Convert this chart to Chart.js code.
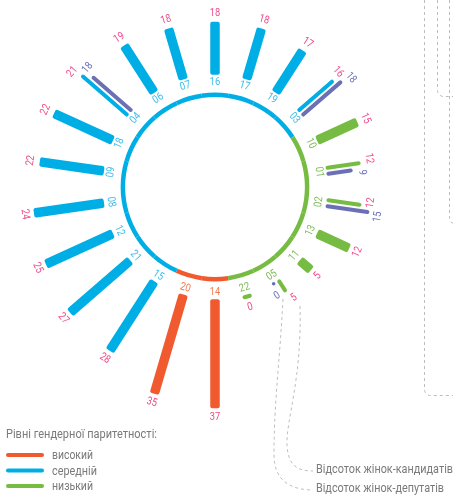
<!DOCTYPE html>
<html>
<head>
<meta charset="utf-8">
<script src="https://cdn.jsdelivr.net/npm/chart.js@4.4.1/dist/chart.umd.min.js"></script>
<style>
  html, body { margin: 0; padding: 0; background: #fff; }
  canvas { display: block; }
</style>
</head>
<body>
<canvas id="chart" width="453" height="496"></canvas>
<script>
// regions, clockwise from the top
const regions    = ['16','17','19','03','10','01','02','13','11','05','22','14','20','15','21','12','08','09','18','04','06','07'];
// % of women among candidates
const candidates = [18, 18, 17, 16, 15, 12, 12, 12, 5, 5, 0, 37, 35, 28, 27, 25, 24, 22, 22, 21, 19, 18];
// % of women among deputies (only where shown separately)
const deputies   = [null, null, null, 18, null, 9, 15, null, null, 0, null, null, null, null, null, null, null, null, null, 18, null, null];
// gender parity level of each region
const levels     = ['m','m','m','m','l','l','l','l','l','l','l','h','h','m','m','m','m','m','m','m','m','m'];
const levelKeys  = ['h', 'm', 'l'];
const levelNames = ['високий', 'середній', 'низький'];

const barColors  = { h: '#f15a2f', m: '#00aee6', l: '#76bc43' };
const codeColors = { h: '#f37b52', m: '#3dbde9', l: '#7fbb58' };
const PINK = '#ee4a8a';
const PURPLE = '#6b70b6';
const GREY = '#7a7a7a';
const FONT = "Roboto, 'Open Sans', sans-serif";

function rotatedText(ctx, text, x, y, ang, color, size) {
    // keep the text readable: bottom half is flipped
    let t = ang + Math.PI / 2;
    t = ((t % (2 * Math.PI)) + 2 * Math.PI) % (2 * Math.PI);
    const rot = (t > Math.PI / 2 && t < 3 * Math.PI / 2) ? t - Math.PI : t;
    ctx.save();
    ctx.translate(x, y);
    ctx.rotate(rot);
    ctx.scale(0.85, 1); // narrow digits
    ctx.font = size + 'px ' + FONT;
    ctx.fillStyle = color;
    ctx.textAlign = 'center';
    ctx.textBaseline = 'middle';
    ctx.fillText(text, 0, 0);
    ctx.restore();
}

function radialBar(ctx, cx, cy, ang, off, d0, d1, w, rad, color) {
    ctx.save();
    ctx.translate(cx, cy);
    ctx.rotate(ang);
    ctx.beginPath();
    ctx.roundRect(d0, off - w / 2, Math.max(d1 - d0, 4), w, rad);
    ctx.fillStyle = color;
    ctx.fill();
    ctx.restore();
}

const radialBars = {
    id: 'radialBars',
    afterDatasetsDraw(chart) {
        const r = chart.scales.r;
        const meta = chart.getDatasetMeta(0);
        const ctx = chart.ctx;
        const cx = r.xCenter, cy = r.yCenter;
        const base = r.getDistanceFromCenterForValue(0);
        const ringR = base - 20;

        ctx.save();
        // ring, one sector per region
        meta.data.forEach((arc, i) => {
            ctx.beginPath();
            ctx.arc(cx, cy, ringR, arc.startAngle, arc.endAngle);
            ctx.strokeStyle = barColors[levels[i]];
            ctx.lineWidth = 4.5;
            ctx.stroke();
        });

        meta.data.forEach((arc, i) => {
            const ang = (arc.startAngle + arc.endAngle) / 2;
            const ux = Math.cos(ang), uy = Math.sin(ang);
            const px = -Math.sin(ang), py = Math.cos(ang);
            const at = (d, off) => [cx + ux * d + px * off, cy + uy * d + py * off];
            const c = candidates[i], dep = deputies[i];
            const col = barColors[levels[i]];
            const dc = r.getDistanceFromCenterForValue(c);

            if (dep === null) {
                radialBar(ctx, cx, cy, ang, 0, base, dc, 9.5, 2, col);
                const [lx, ly] = at(Math.max(dc, base + 4) + 9, 0);
                rotatedText(ctx, String(c), lx, ly, ang, PINK, 11);
            } else {
                const dd = r.getDistanceFromCenterForValue(dep);
                radialBar(ctx, cx, cy, ang, -3, base, dc, 4, 2, col);
                if (dep === 0) {
                    const [dx, dy] = at(base + 1, 3);
                    ctx.beginPath();
                    ctx.arc(dx, dy, 1.8, 0, 2 * Math.PI);
                    ctx.fillStyle = PURPLE;
                    ctx.fill();
                } else {
                    radialBar(ctx, cx, cy, ang, 3, base, dd, 4, 2, PURPLE);
                }
                let [lx, ly] = at(Math.max(dc, base + 4) + 9, -6.5);
                rotatedText(ctx, String(c), lx, ly, ang, PINK, 11);
                [lx, ly] = at(Math.max(dd, base + 4) + 9, 6.5);
                rotatedText(ctx, String(dep), lx, ly, ang, PURPLE, 11);
            }
            const [tx, ty] = at(base - 7, 0);
            rotatedText(ctx, regions[i], tx, ty, ang, codeColors[levels[i]], 11);
        });
        ctx.restore();
    }
};

const decorations = {
    id: 'decorations',
    afterDraw(chart) {
        const ctx = chart.ctx;
        ctx.save();
        // legend
        ctx.font = '13.5px ' + FONT;
        ctx.fillStyle = GREY;
        ctx.textBaseline = 'middle';
        ctx.textAlign = 'left';
        ctx.fillText('Рівні гендерної паритетності:', 6, 435, 151);
        const itemWidths = [41, 45, 41];
        levelKeys.forEach((k, i) => {
            const y = 455 + i * 15.5;
            ctx.beginPath();
            ctx.moveTo(8, y);
            ctx.lineTo(42, y);
            ctx.lineCap = 'round';
            ctx.lineWidth = 4;
            ctx.strokeStyle = barColors[k];
            ctx.stroke();
            ctx.fillStyle = GREY;
            ctx.fillText(levelNames[i], 52, y + 1, itemWidths[i]);
        });
        ctx.fillText('Відсоток жінок-кандидатів', 316, 470, 137);
        ctx.fillText('Відсоток жінок-депутатів', 316, 489, 128);

        // dashed leaders and frames
        ctx.setLineDash([3, 3]);
        ctx.lineWidth = 1;
        ctx.lineCap = 'butt';
        ctx.strokeStyle = '#bdbdbd';
        ctx.beginPath();
        ctx.moveTo(300, 306);
        ctx.bezierCurveTo(302, 380, 286, 420, 287, 445);
        ctx.bezierCurveTo(288, 466, 298, 471, 313, 471);
        ctx.moveTo(283, 299);
        ctx.bezierCurveTo(280, 360, 274, 400, 274, 455);
        ctx.bezierCurveTo(274, 480, 290, 490, 313, 490);

        ctx.moveTo(424.5, 0);
        ctx.lineTo(424.5, 389);
        ctx.arcTo(424.5, 395.5, 431, 395.5, 6);
        ctx.lineTo(453, 395.5);
        ctx.moveTo(437.5, 0);
        ctx.lineTo(437.5, 90);
        ctx.arcTo(437.5, 96.5, 444, 96.5, 6);
        ctx.lineTo(453, 96.5);
        ctx.moveTo(449.5, 0);
        ctx.lineTo(449.5, 218);
        ctx.arcTo(449.5, 223.5, 455, 223.5, 5);
        ctx.stroke();
        ctx.restore();
    }
};

new Chart(document.getElementById('chart'), {
    type: 'polarArea',
    data: {
        labels: regions,
        datasets: [{
            data: candidates,
            backgroundColor: 'rgba(0,0,0,0)',
            borderWidth: 0
        }]
    },
    options: {
        responsive: false,
        animation: false,
        devicePixelRatio: 1,
        layout: { padding: { left: 35, right: 58, top: 7, bottom: 129 } },
        plugins: { legend: { display: false }, tooltip: { enabled: false } },
        scales: {
            r: {
                min: -38,
                max: 23,
                startAngle: -180 / 22,
                ticks: { display: false },
                grid: { display: false },
                angleLines: { display: false },
                pointLabels: { display: false }
            }
        }
    },
    plugins: [radialBars, decorations]
});
</script>
</body>
</html>
